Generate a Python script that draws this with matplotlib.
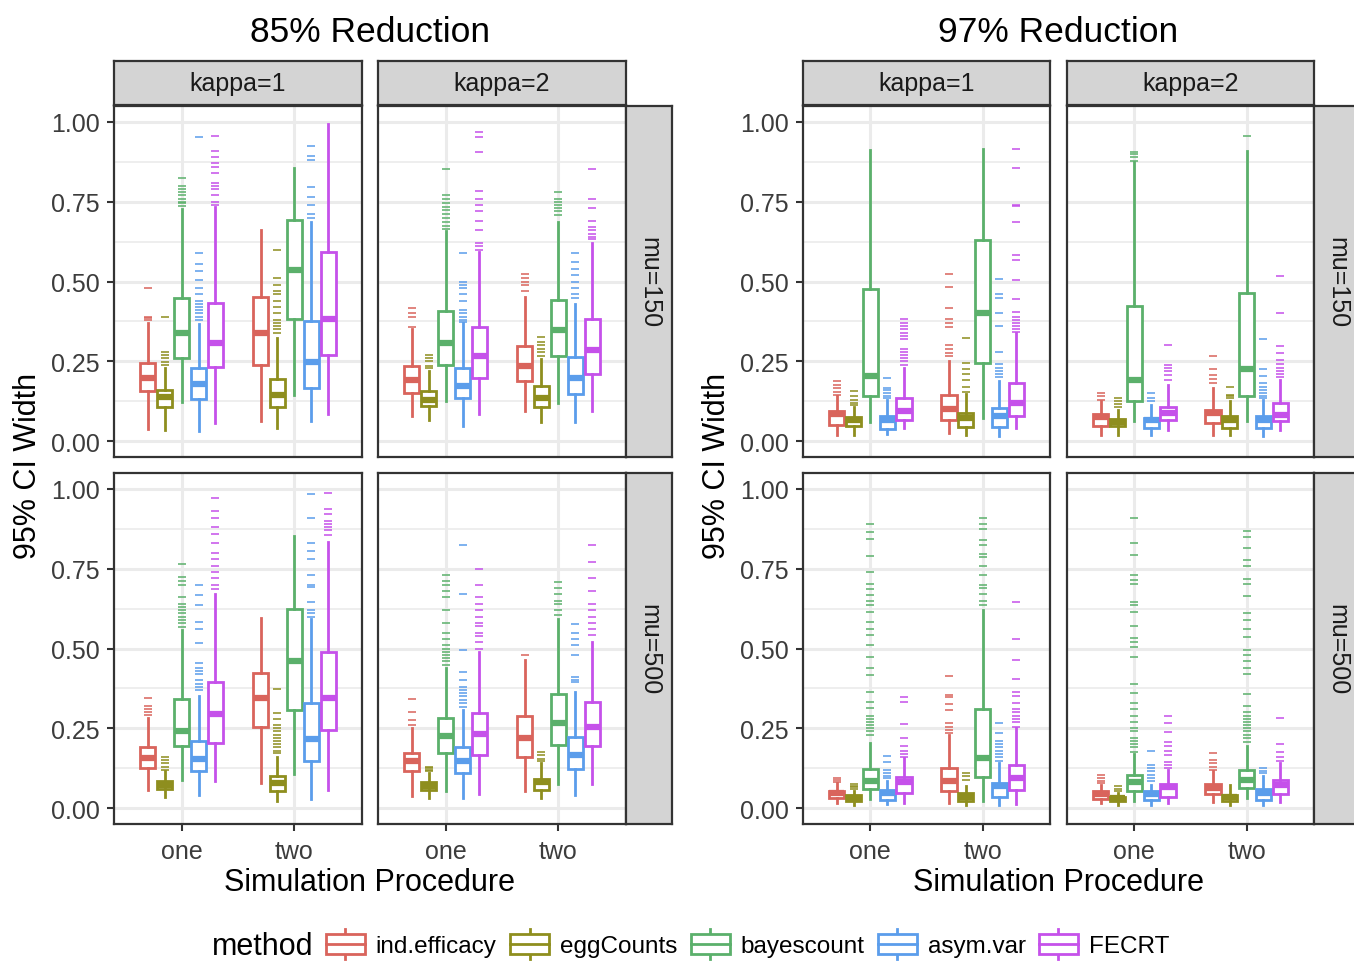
import matplotlib
matplotlib.use("Agg")
import matplotlib.pyplot as plt
from matplotlib.legend_handler import HandlerBase
from matplotlib.patches import Rectangle, Patch
from matplotlib.lines import Line2D

plt.rcParams['font.family'] = ['Liberation Sans', 'DejaVu Sans']

methods = ['ind.efficacy', 'eggCounts', 'bayescount', 'asym.var', 'FECRT']
colors = ['#D9645C', '#8E8E1E', '#5BB06B', '#5B9DEB', '#C551EA']
procedures = ['one', 'two']
y_ticks = [0.0, 0.25, 0.5, 0.75, 1.0]
y_minor = [0.125, 0.375, 0.625, 0.875]

# box stats per method: (whisker low, q1, median, q3, whisker high)
# 85% reduction, kappa=1, mu=150
r85_k1_mu150_one = [(0.038, 0.157, 0.199, 0.244, 0.369), (0.035, 0.108, 0.138, 0.16, 0.23),
                    (0.122, 0.259, 0.34, 0.447, 0.728), (0.03, 0.131, 0.179, 0.228, 0.366),
                    (0.058, 0.233, 0.308, 0.433, 0.733)]
r85_k1_mu150_one_out = [[0.38, 0.385, 0.39, 0.48], [0.238, 0.249, 0.26, 0.27, 0.278, 0.39],
                        [0.738, 0.745, 0.75, 0.76, 0.77, 0.78, 0.79, 0.80, 0.824],
                        [0.38, 0.39, 0.40, 0.41, 0.42, 0.43, 0.44, 0.46, 0.48, 0.506, 0.533, 0.556, 0.59, 0.954],
                        [0.74, 0.75, 0.77, 0.79, 0.80, 0.81, 0.84, 0.86, 0.87, 0.89, 0.91, 0.957]]
r85_k1_mu150_two = [(0.063, 0.238, 0.34, 0.45, 0.6625), (0.04, 0.106, 0.145, 0.194, 0.324),
                    (0.145, 0.384, 0.535, 0.694, 0.855), (0.064, 0.166, 0.249, 0.377, 0.688),
                    (0.084, 0.27, 0.384, 0.593, 0.994)]
r85_k1_mu150_two_out = [[], [0.34, 0.35, 0.36, 0.37, 0.38, 0.40, 0.42, 0.44, 0.46, 0.47, 0.49, 0.51, 0.60],
                        [], [0.70, 0.71, 0.74, 0.765, 0.796, 0.882, 0.893, 0.926], []]

# 85% reduction, kappa=2, mu=150
r85_k2_mu150_one = [(0.079, 0.152, 0.192, 0.235, 0.35), (0.067, 0.111, 0.129, 0.158, 0.22),
                    (0.124, 0.238, 0.306, 0.408, 0.657), (0.046, 0.134, 0.174, 0.23, 0.37),
                    (0.084, 0.197, 0.265, 0.356, 0.593)]
r85_k2_mu150_one_out = [[0.358, 0.39, 0.40, 0.416], [0.228, 0.235, 0.25, 0.26, 0.27],
                        [0.666, 0.675, 0.685, 0.70, 0.71, 0.725, 0.735, 0.745, 0.76, 0.772, 0.853],
                        [0.374, 0.38, 0.39, 0.40, 0.41, 0.44, 0.46, 0.48, 0.49, 0.5, 0.59],
                        [0.598, 0.61, 0.62, 0.66, 0.69, 0.72, 0.74, 0.76, 0.785, 0.905, 0.952, 0.968]]
r85_k2_mu150_two = [(0.095, 0.187, 0.235, 0.299, 0.452), (0.061, 0.108, 0.136, 0.173, 0.257),
                    (0.119, 0.265, 0.348, 0.442, 0.688), (0.061, 0.147, 0.197, 0.262, 0.428),
                    (0.095, 0.21, 0.285, 0.382, 0.621)]
r85_k2_mu150_two_out = [[0.47, 0.49, 0.50, 0.51, 0.525], [0.265, 0.28, 0.29, 0.30, 0.31, 0.327],
                        [0.707, 0.72, 0.73, 0.74, 0.75, 0.76, 0.78],
                        [0.447, 0.46, 0.48, 0.50, 0.52, 0.54, 0.56, 0.59],
                        [0.634, 0.64, 0.65, 0.66, 0.67, 0.69, 0.73, 0.76, 0.851]]

# 85% reduction, kappa=1, mu=500
r85_k1_mu500_one = [(0.057, 0.127, 0.158, 0.19, 0.281), (0.036, 0.059, 0.073, 0.086, 0.115),
                    (0.089, 0.195, 0.242, 0.342, 0.557), (0.042, 0.115, 0.153, 0.211, 0.351),
                    (0.086, 0.203, 0.295, 0.394, 0.672)]
r85_k1_mu500_one_out = [[0.292, 0.30, 0.31, 0.32, 0.344], [0.12, 0.13, 0.14, 0.15, 0.161],
                        [0.568, 0.58, 0.59, 0.60, 0.61, 0.62, 0.63, 0.64, 0.66, 0.70, 0.71, 0.724, 0.766],
                        [0.37, 0.38, 0.39, 0.40, 0.42, 0.43, 0.44, 0.453, 0.516, 0.56, 0.583, 0.635, 0.669, 0.698],
                        [0.688, 0.70, 0.72, 0.74, 0.76, 0.78, 0.80, 0.83, 0.86, 0.88, 0.91, 0.932, 0.971]]
r85_k1_mu500_two = [(0.078, 0.255, 0.346, 0.422, 0.596), (0.021, 0.054, 0.078, 0.099, 0.161),
                    (0.106, 0.307, 0.46, 0.625, 0.851), (0.028, 0.146, 0.217, 0.328, 0.594),
                    (0.057, 0.245, 0.346, 0.49, 0.835)]
r85_k1_mu500_two_out = [[], [0.172, 0.18, 0.19, 0.20, 0.21, 0.22, 0.23, 0.24, 0.25, 0.26, 0.28, 0.297, 0.373],
                        [], [0.599, 0.61, 0.62, 0.646, 0.693, 0.70, 0.731, 0.779, 0.807, 0.831, 0.908, 0.984],
                        [0.857, 0.87, 0.88, 0.89, 0.90, 0.92, 0.9375, 0.9875]]

# 85% reduction, kappa=2, mu=500
r85_k2_mu500_one = [(0.039, 0.115, 0.146, 0.172, 0.25), (0.033, 0.057, 0.07, 0.083, 0.109),
                    (0.052, 0.172, 0.226, 0.283, 0.44), (0.033, 0.109, 0.146, 0.19, 0.307),
                    (0.044, 0.167, 0.232, 0.299, 0.49)]
r85_k2_mu500_one_out = [[0.26, 0.276, 0.302, 0.342], [0.115, 0.12, 0.125, 0.13],
                        [0.448, 0.46, 0.47, 0.48, 0.49, 0.50, 0.51, 0.53, 0.55, 0.58, 0.62, 0.66, 0.68, 0.70, 0.71, 0.729],
                        [0.318, 0.33, 0.34, 0.35, 0.36, 0.37, 0.38, 0.40, 0.427, 0.495, 0.672, 0.825],
                        [0.50, 0.52, 0.54, 0.55, 0.57, 0.58, 0.60, 0.62, 0.64, 0.66, 0.70, 0.75]]
r85_k2_mu500_two = [(0.052, 0.161, 0.219, 0.287, 0.464), (0.033, 0.057, 0.083, 0.092, 0.14),
                    (0.075, 0.198, 0.268, 0.357, 0.594), (0.042, 0.122, 0.167, 0.222, 0.3625),
                    (0.075, 0.195, 0.255, 0.331, 0.521)]
r85_k2_mu500_two_out = [[0.481], [0.146, 0.155, 0.165, 0.177],
                        [0.604, 0.62, 0.64, 0.65, 0.67, 0.69, 0.708],
                        [0.396, 0.40, 0.41, 0.48, 0.51, 0.53, 0.55, 0.578],
                        [0.542, 0.56, 0.58, 0.60, 0.62, 0.64, 0.68, 0.72, 0.771, 0.823]]

# 97% reduction, kappa=1, mu=150
r97_k1_mu150_one = [(0.02, 0.051, 0.084, 0.093, 0.142), (0.02, 0.046, 0.067, 0.074, 0.108),
                    (0.061, 0.142, 0.204, 0.476, 0.9125), (0.022, 0.039, 0.067, 0.077, 0.129),
                    (0.041, 0.067, 0.093, 0.134, 0.228)]
r97_k1_mu150_one_out = [[0.145, 0.155, 0.165, 0.175, 0.187], [0.113, 0.12, 0.13, 0.14, 0.157], [],
                        [0.134, 0.14, 0.15, 0.16, 0.166, 0.199],
                        [0.238, 0.25, 0.26, 0.27, 0.28, 0.29, 0.32, 0.33, 0.34, 0.35, 0.36, 0.37, 0.384]]
r97_k1_mu150_two = [(0.025, 0.067, 0.1, 0.145, 0.252), (0.02, 0.043, 0.072, 0.0875, 0.147),
                    (0.072, 0.244, 0.402, 0.631, 0.916), (0.015, 0.043, 0.08, 0.103, 0.187),
                    (0.041, 0.077, 0.119, 0.183, 0.3375)]
r97_k1_mu150_two_out = [[0.265, 0.275, 0.29, 0.301, 0.356, 0.37, 0.384, 0.416, 0.483, 0.522],
                        [0.155, 0.17, 0.19, 0.21, 0.225, 0.244, 0.322], [],
                        [0.2, 0.21, 0.22, 0.23, 0.24, 0.28, 0.36, 0.40, 0.447, 0.46, 0.507],
                        [0.343, 0.35, 0.36, 0.37, 0.38, 0.39, 0.405, 0.444, 0.504, 0.567, 0.582, 0.688, 0.736, 0.74, 0.856, 0.916]]

# 97% reduction, kappa=2, mu=150
r97_k2_mu150_one = [(0.02, 0.048, 0.074, 0.084, 0.124), (0.018, 0.046, 0.061, 0.07, 0.098),
                    (0.063, 0.124, 0.192, 0.424, 0.874), (0.02, 0.041, 0.067, 0.072, 0.113),
                    (0.035, 0.067, 0.0875, 0.108, 0.176)]
r97_k2_mu150_one_out = [[0.129, 0.14, 0.15], [0.108, 0.115, 0.125, 0.134], [0.879, 0.89, 0.90, 0.907],
                        [0.124, 0.135, 0.15], [0.19, 0.207, 0.22, 0.23, 0.238, 0.301]]
r97_k2_mu150_two = [(0.02, 0.056, 0.0875, 0.098, 0.166), (0.018, 0.041, 0.067, 0.077, 0.125),
                    (0.063, 0.14, 0.225, 0.465, 0.91), (0.015, 0.041, 0.067, 0.08, 0.129),
                    (0.035, 0.063, 0.082, 0.119, 0.192)]
r97_k2_mu150_two_out = [[0.181, 0.195, 0.207, 0.226, 0.265], [0.135, 0.14, 0.145, 0.168], [0.957],
                        [0.134, 0.14, 0.15, 0.16, 0.17, 0.181, 0.204, 0.225, 0.32],
                        [0.2, 0.21, 0.22, 0.23, 0.24, 0.254, 0.275, 0.299, 0.402, 0.518]]

# 97% reduction, kappa=1, mu=500
r97_k1_mu500_one = [(0.016, 0.033, 0.047, 0.054, 0.078), (0.008, 0.023, 0.031, 0.04, 0.052),
                    (0.028, 0.059, 0.085, 0.122, 0.203), (0.0125, 0.026, 0.047, 0.057, 0.085),
                    (0.016, 0.047, 0.083, 0.096, 0.156)]
r97_k1_mu500_one_out = [[0.083, 0.088, 0.094], [0.06, 0.065, 0.07, 0.075],
                        [0.229, 0.24, 0.25, 0.26, 0.27, 0.28, 0.29, 0.3125, 0.333, 0.365, 0.417, 0.4375, 0.472,
                         0.51, 0.542, 0.5625, 0.583, 0.615, 0.635, 0.65, 0.667, 0.688, 0.703, 0.74, 0.79, 0.842,
                         0.865, 0.89],
                        [0.094, 0.1, 0.11, 0.12, 0.143, 0.164],
                        [0.161, 0.17, 0.18, 0.196, 0.221, 0.264, 0.331, 0.349]]
r97_k1_mu500_two = [(0.016, 0.054, 0.086, 0.125, 0.229), (0.008, 0.021, 0.036, 0.047, 0.068),
                    (0.021, 0.096, 0.158, 0.31, 0.62), (0.008, 0.036, 0.068, 0.078, 0.14),
                    (0.0125, 0.057, 0.094, 0.135, 0.252)]
r97_k1_mu500_two_out = [[0.234, 0.245, 0.255, 0.266, 0.307, 0.325, 0.347, 0.354, 0.415], [0.089, 0.1, 0.109],
                        [0.635, 0.65, 0.67, 0.69, 0.70, 0.729, 0.758, 0.786, 0.797, 0.823, 0.84, 0.875, 0.89, 0.908],
                        [0.146, 0.16, 0.17, 0.18, 0.19, 0.2, 0.21, 0.234, 0.266],
                        [0.255, 0.27, 0.28, 0.29, 0.30, 0.31, 0.33, 0.35, 0.365, 0.404, 0.464, 0.531, 0.646]]

# 97% reduction, kappa=2, mu=500
r97_k2_mu500_one = [(0.016, 0.028, 0.044, 0.052, 0.073), (0.01, 0.021, 0.031, 0.036, 0.047),
                    (0.023, 0.052, 0.083, 0.104, 0.169), (0.01, 0.024, 0.044, 0.052, 0.073),
                    (0.016, 0.036, 0.065, 0.075, 0.12)]
r97_k2_mu500_one_out = [[0.078, 0.085, 0.095, 0.104], [0.052, 0.06, 0.068],
                        [0.177, 0.19, 0.2, 0.21, 0.22, 0.24, 0.25, 0.27, 0.29, 0.31, 0.33, 0.36, 0.39, 0.472, 0.505,
                         0.52, 0.533, 0.57, 0.615, 0.635, 0.646, 0.703, 0.715, 0.729, 0.794, 0.831, 0.909],
                        [0.085, 0.095, 0.105, 0.115, 0.125, 0.135, 0.18],
                        [0.125, 0.135, 0.144, 0.167, 0.18, 0.195, 0.206, 0.237, 0.268, 0.29]]
r97_k2_mu500_two = [(0.018, 0.044, 0.0625, 0.075, 0.115), (0.01, 0.021, 0.036, 0.042, 0.073),
                    (0.031, 0.0625, 0.089, 0.12, 0.193), (0.01, 0.026, 0.047, 0.059, 0.1),
                    (0.018, 0.044, 0.073, 0.089, 0.14)]
r97_k2_mu500_two_out = [[0.12, 0.13, 0.14, 0.151, 0.174], [],
                        [0.208, 0.22, 0.23, 0.24, 0.25, 0.26, 0.27, 0.28, 0.29, 0.30, 0.32, 0.356, 0.42, 0.44, 0.46,
                         0.48, 0.495, 0.536, 0.56, 0.59, 0.6125, 0.665, 0.703, 0.719, 0.76, 0.776, 0.816, 0.849, 0.868],
                        [0.11, 0.115, 0.125], [0.146, 0.16, 0.175, 0.2, 0.283]]

W, H = 1354, 962
fig = plt.figure(figsize=(W / 100, H / 100), dpi=100)

line_col = '#333333'
strip_col = '#D4D4D4'
offsets = [-0.3, -0.15, 0.0, 0.15, 0.3]


def px_axes(x0, y0, x1, y1):
    return fig.add_axes([x0 / W, 1 - y1 / H, (x1 - x0) / W, (y1 - y0) / H])


def strip(x0, y0, x1, y1, label, rotation=0):
    ax = px_axes(x0, y0, x1, y1)
    ax.set_facecolor(strip_col)
    ax.set_xticks([])
    ax.set_yticks([])
    for s in ax.spines.values():
        s.set_color(line_col)
        s.set_linewidth(1.6)
    ax.text(0.5, 0.5, label, ha='center', va='center', rotation=rotation,
            fontsize=18, color='#1A1A1A', transform=ax.transAxes)


def draw_facet(ax, one, one_out, two, two_out, left, bottom):
    for m, c in enumerate(colors):
        stats = []
        for st, out in ((one[m], one_out[m]), (two[m], two_out[m])):
            lo, q1, med, q3, hi = st
            stats.append(dict(whislo=lo, q1=q1, med=med, q3=q3, whishi=hi, fliers=out))
        ax.bxp(stats, positions=[1 + offsets[m], 2 + offsets[m]], widths=0.135,
               patch_artist=True, showcaps=False, manage_ticks=False,
               boxprops=dict(facecolor='white', edgecolor=c, linewidth=2),
               whiskerprops=dict(color=c, linewidth=2),
               medianprops=dict(color=c, linewidth=4.5, solid_capstyle='butt'),
               flierprops=dict(marker='_', markeredgecolor=c, markersize=6,
                               markeredgewidth=1.3, alpha=0.85))
    ax.set_xlim(0.4, 2.6)
    ax.set_ylim(-0.05, 1.05)
    ax.set_axisbelow(True)
    ax.set_yticks(y_ticks)
    ax.set_yticks(y_minor, minor=True)
    ax.set_xticks([1, 2])
    ax.grid(which='major', color='#EBEBEB', linewidth=2.2)
    ax.grid(which='minor', axis='y', color='#EBEBEB', linewidth=1.2)
    for s in ax.spines.values():
        s.set_color(line_col)
        s.set_linewidth(1.6)
    ax.tick_params(which='minor', length=0)
    ax.tick_params(which='major', colors=line_col, width=1.5, length=5,
                   labelsize=18, labelcolor='#3C3C3C')
    ax.tick_params(axis='y', pad=5.5)
    ax.tick_params(axis='x', pad=5.5)
    if left:
        ax.set_yticklabels(['%.2f' % v for v in y_ticks])
    else:
        ax.tick_params(axis='y', length=0, labelleft=False)
    if bottom:
        ax.set_xticklabels(procedures)
    else:
        ax.tick_params(axis='x', length=0, labelbottom=False)


panels = [
    ('85% Reduction', (114, 362, 378, 626), {
        (0, 0): (r85_k1_mu150_one, r85_k1_mu150_one_out, r85_k1_mu150_two, r85_k1_mu150_two_out),
        (0, 1): (r85_k2_mu150_one, r85_k2_mu150_one_out, r85_k2_mu150_two, r85_k2_mu150_two_out),
        (1, 0): (r85_k1_mu500_one, r85_k1_mu500_one_out, r85_k1_mu500_two, r85_k1_mu500_two_out),
        (1, 1): (r85_k2_mu500_one, r85_k2_mu500_one_out, r85_k2_mu500_two, r85_k2_mu500_two_out)}),
    ('97% Reduction', (803, 1050, 1067, 1314), {
        (0, 0): (r97_k1_mu150_one, r97_k1_mu150_one_out, r97_k1_mu150_two, r97_k1_mu150_two_out),
        (0, 1): (r97_k2_mu150_one, r97_k2_mu150_one_out, r97_k2_mu150_two, r97_k2_mu150_two_out),
        (1, 0): (r97_k1_mu500_one, r97_k1_mu500_one_out, r97_k1_mu500_two, r97_k1_mu500_two_out),
        (1, 1): (r97_k2_mu500_one, r97_k2_mu500_one_out, r97_k2_mu500_two, r97_k2_mu500_two_out)}),
]
rows_px = [(107, 458), (474, 825)]
kappa_labels = ['kappa=1', 'kappa=2']
mu_labels = ['mu=150', 'mu=500']

for title, (a0, a1, b0, b1), facets in panels:
    cols_px = [(a0, a1), (b0, b1)]
    for (r, cc), data in facets.items():
        x0, x1 = cols_px[cc]
        y0, y1 = rows_px[r]
        ax = px_axes(x0, y0, x1, y1)
        draw_facet(ax, *data, left=(cc == 0), bottom=(r == 1))
    for cc, (x0, x1) in enumerate(cols_px):
        strip(x0, 62, x1, 106, kappa_labels[cc])
    for r, (y0, y1) in enumerate(rows_px):
        strip(b1, y0, b1 + 46, y1, mu_labels[r], rotation=-90)
    cx = (a0 + b1) / 2
    fig.text(cx / W, 1 - 32 / H, title, ha='center', va='center', fontsize=25.5)
    fig.text(cx / W, 1 - 883 / H, 'Simulation Procedure', ha='center', va='center', fontsize=22)
    fig.text((a0 - 86) / W, 1 - 466 / H, '95% CI Width', ha='center', va='center',
             rotation=90, fontsize=22)


class BoxKey(HandlerBase):
    def create_artists(self, legend, orig_handle, xdescent, ydescent, width, height, fontsize, trans):
        c = orig_handle.get_edgecolor()
        x0, y0 = -xdescent, -ydescent
        cx = x0 + width / 2
        wb = Line2D([cx, cx], [y0, y0 + 0.17 * height], color=c, lw=2, transform=trans)
        wt = Line2D([cx, cx], [y0 + 0.83 * height, y0 + height], color=c, lw=2, transform=trans)
        box = Rectangle((x0, y0 + 0.17 * height), width, 0.66 * height, facecolor='white',
                        edgecolor=c, lw=2, transform=trans)
        med = Line2D([x0, x0 + width], [y0 + 0.5 * height] * 2, color=c, lw=2, transform=trans)
        return [wb, wt, box, med]


handles = [Patch(facecolor='white', edgecolor=c) for c in colors]
fig.text(212 / W, 1 - 947 / H, 'method', ha='left', va='center', fontsize=22)
fig.legend(handles, methods, loc='center left', bbox_to_anchor=(326 / W, 1 - 945 / H),
           ncol=5, frameon=False, fontsize=17.5, handler_map={Patch: BoxKey()},
           handlelength=1.6, handleheight=1.5, handletextpad=0.45, columnspacing=0.55,
           borderpad=0, borderaxespad=0)

fig.savefig('out.png', dpi=100)
